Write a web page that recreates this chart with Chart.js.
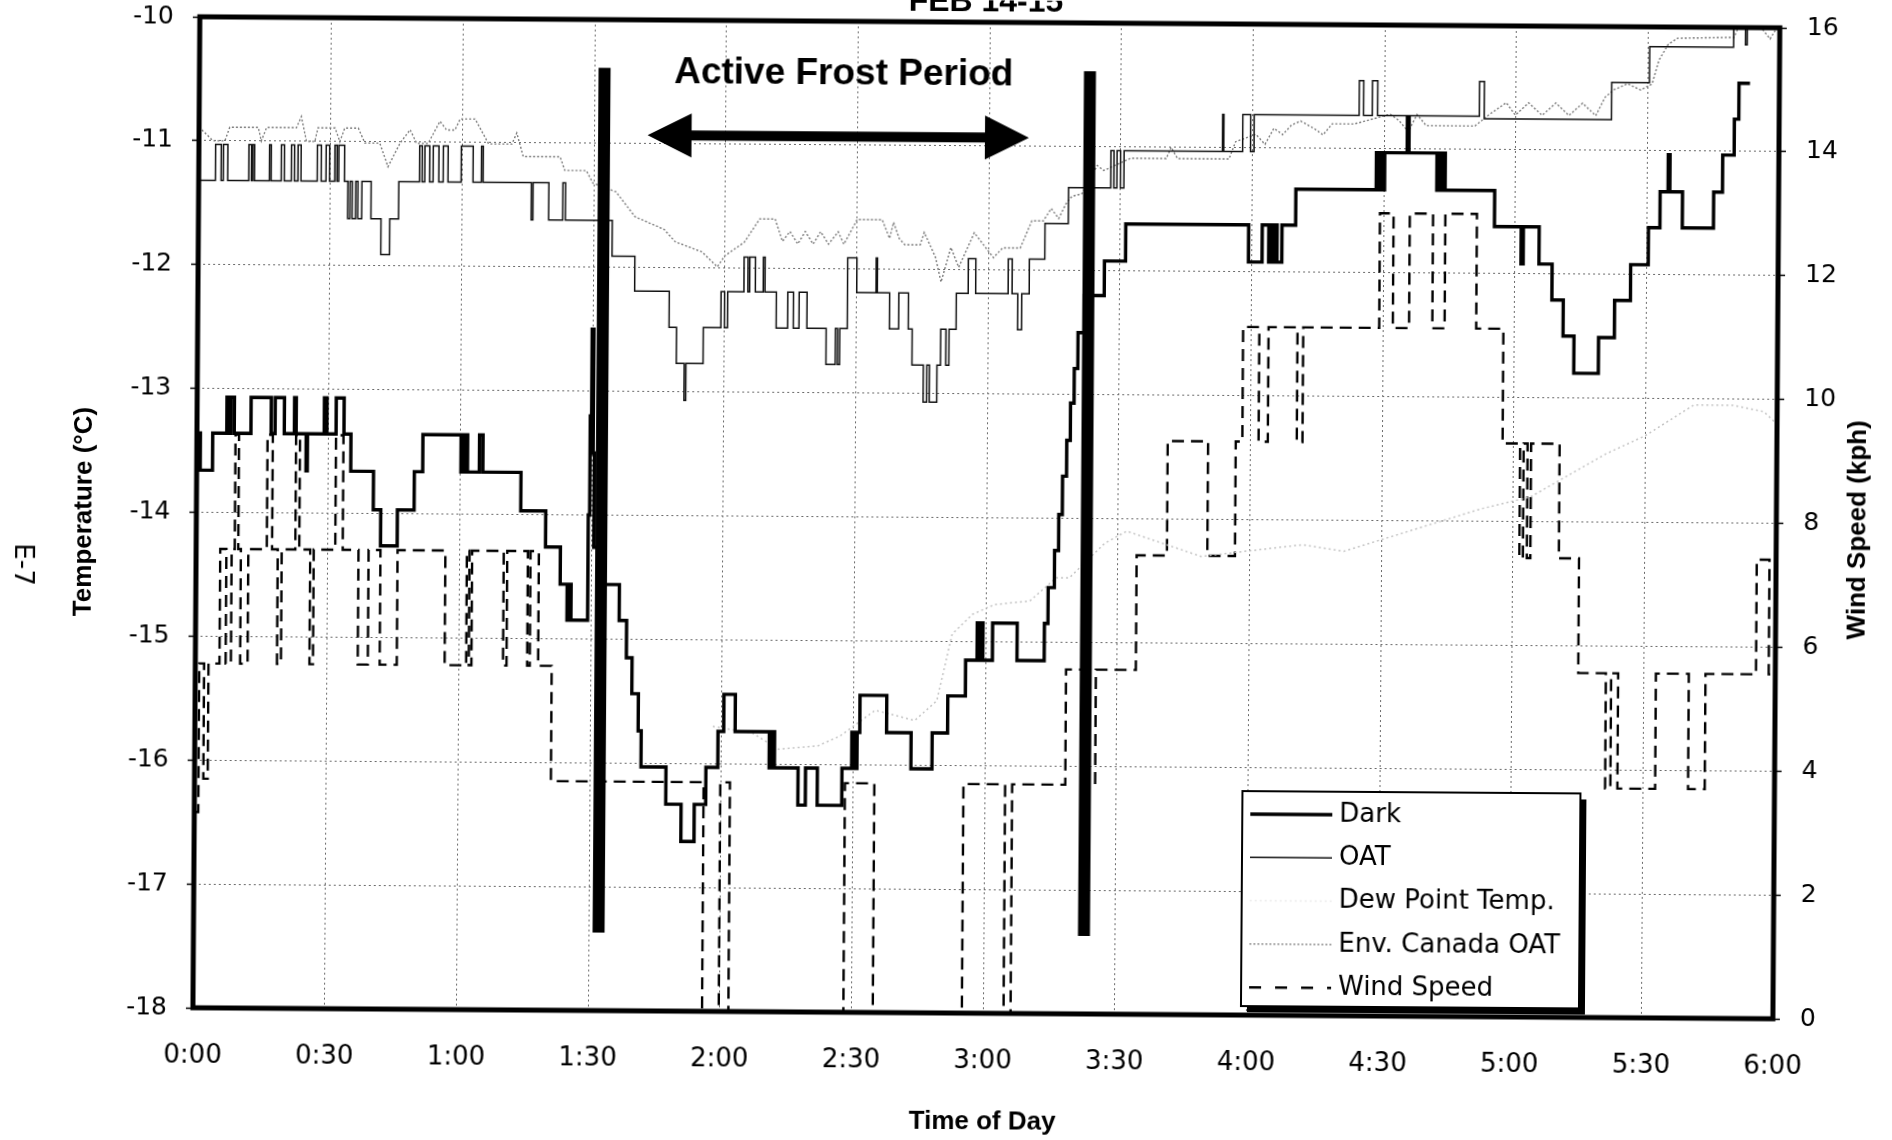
<!DOCTYPE html>
<html lang="en">
<head>
<meta charset="UTF-8">
<title>FEB 14-15 - Active Frost Period</title>
<style>
  body { margin: 0; background: #fff; overflow: hidden; }
  /* the scanned original sits a little skewed on the page */
  #wrap { width: 1892px; height: 1140px; transform: rotate(0.4deg); transform-origin: 946px 570px; }
</style>
</head>
<body>
<div id="wrap"><canvas id="frostChart" width="1892" height="1140"></canvas></div>

<script src="https://cdn.jsdelivr.net/npm/chart.js"></script>
<script>
// x values are minutes after midnight, temperatures in degC, wind in kph
const timeLabels = ['0:00', '0:30', '1:00', '1:30', '2:00', '2:30', '3:00', '3:30', '4:00', '4:30', '5:00', '5:30', '6:00'];

// [minute, degC] - value holds from that minute on
const darkTemp = [
  [0, -13.66], [0.4, -13.36], [0.8, -13.66], [3.6, -13.36], [6.8, -13.07], [7.3, -13.36], [7.7, -13.07], [8.5, -13.36],
  [12.3, -13.07], [16.9, -13.36], [17.8, -13.07], [19.9, -13.36], [22.2, -13.07], [22.6, -13.36], [24.9, -13.66], [25.2, -13.36],
  [29.0, -13.07], [29.6, -13.36], [31.7, -13.07], [33.5, -13.36], [35.1, -13.66], [40.3, -13.97], [42.0, -14.26], [45.8, -13.97],
  [49.6, -13.66], [51.5, -13.36], [60.2, -13.66], [60.6, -13.36], [61.0, -13.66], [61.4, -13.36], [61.7, -13.66], [64.4, -13.36],
  [65.2, -13.66], [73.9, -13.97], [79.6, -14.26], [83.0, -14.56], [84.6, -14.85], [85.0, -14.56], [85.5, -14.85], [89.3, -14.0],
  [89.6, -13.2], [89.9, -12.5], [90.3, -13.5], [90.6, -14.26], [93.0, -14.56], [96.5, -14.85], [98.2, -15.15], [99.5, -15.44],
  [101.0, -15.74], [101.7, -16.03], [107.4, -16.33], [110.9, -16.63], [113.9, -16.33], [116.5, -16.03], [119.2, -15.74], [120.5, -15.44],
  [123.1, -15.74], [130.9, -16.03], [131.5, -15.74], [132.1, -16.03], [137.5, -16.33], [139.2, -16.03], [141.9, -16.33], [147.5, -16.03],
  [149.7, -15.74], [150.3, -16.03], [150.9, -15.74], [151.5, -15.44], [157.6, -15.74], [163.2, -16.03], [168.0, -15.74], [171.5, -15.44],
  [175.5, -15.15], [178.1, -14.85], [178.6, -15.15], [179.0, -14.85], [179.4, -15.15], [181.6, -14.85], [187.2, -15.15], [193.4, -14.85],
  [194.2, -14.56], [195.6, -14.26], [196.5, -13.97], [197.3, -13.66], [198.2, -13.37], [199.0, -13.07], [199.8, -12.79], [200.6, -12.5],
  [202.0, -12.2], [206.5, -11.92], [211.3, -11.62], [239.3, -11.92], [242.4, -11.62], [243.9, -11.92], [244.3, -11.62], [244.8, -11.92],
  [245.3, -11.62], [245.8, -11.92], [246.9, -11.62], [250.0, -11.33], [268.3, -11.03], [268.7, -11.33], [269.2, -11.03], [269.7, -11.33],
  [270.2, -11.03], [275.3, -10.74], [275.7, -11.03], [282.1, -11.33], [282.5, -11.03], [283.0, -11.33], [283.5, -11.03], [284.0, -11.33],
  [295.3, -11.62], [301.4, -11.92], [301.9, -11.62], [305.5, -11.92], [308.5, -12.21], [311.1, -12.5], [313.6, -12.8], [319.2, -12.51],
  [322.8, -12.21], [326.4, -11.92], [330.4, -11.62], [333.0, -11.33], [334.8, -11.03], [335.2, -11.33], [338.1, -11.62], [345.2, -11.33],
  [347.2, -11.03], [349.8, -10.74], [350.8, -10.45], [353.3, -10.45]
];

const oatTemp = [
  [0, -11.32], [3.8, -11.03], [5.1, -11.32], [5.6, -11.03], [6.6, -11.32], [11.4, -11.03], [12.0, -11.32], [12.3, -11.03],
  [12.7, -11.32], [16.1, -11.03], [16.5, -11.32], [18.8, -11.03], [19.5, -11.32], [21.1, -11.03], [21.8, -11.32], [22.6, -11.03],
  [23.3, -11.32], [27.0, -11.03], [27.9, -11.32], [29.0, -11.03], [29.8, -11.32], [31.0, -11.03], [31.5, -11.32], [31.9, -11.03],
  [33.2, -11.32], [34.0, -11.62], [34.5, -11.32], [35.0, -11.62], [35.8, -11.32], [36.3, -11.62], [37.2, -11.32], [39.3, -11.62],
  [41.6, -11.91], [43.6, -11.62], [45.6, -11.32], [50.3, -11.03], [50.9, -11.32], [51.5, -11.03], [52.6, -11.32], [53.4, -11.03],
  [54.7, -11.32], [55.7, -11.03], [56.8, -11.32], [59.8, -11.03], [62.5, -11.32], [64.4, -11.03], [64.8, -11.32], [75.8, -11.62],
  [76.2, -11.32], [79.8, -11.62], [83.0, -11.32], [83.6, -11.62], [94.3, -11.91], [99.5, -12.19], [107.4, -12.48], [109.1, -12.77],
  [110.9, -13.07], [111.3, -12.77], [115.2, -12.48], [119.2, -12.19], [120.0, -12.48], [120.7, -12.19], [124.4, -11.91], [125.3, -12.19],
  [125.7, -11.91], [127.0, -12.19], [128.8, -11.91], [129.2, -12.19], [131.8, -12.48], [134.4, -12.19], [135.7, -12.48], [137.0, -12.19],
  [138.8, -12.48], [143.2, -12.77], [145.3, -12.48], [145.8, -12.77], [146.3, -12.48], [148.0, -11.91], [150.1, -12.19], [154.5, -11.91],
  [154.8, -12.19], [157.6, -12.48], [159.7, -12.19], [161.9, -12.48], [162.8, -12.77], [165.4, -13.07], [166.2, -12.77], [166.8, -13.07],
  [168.5, -12.77], [169.3, -12.48], [170.5, -12.77], [171.2, -12.48], [172.8, -12.19], [175.5, -11.91], [177.2, -12.19], [184.6, -11.91],
  [185.5, -12.19], [186.8, -12.48], [187.7, -12.19], [189.4, -11.91], [192.9, -11.62], [198.2, -11.33], [207.8, -11.03], [208.5, -11.33],
  [209.2, -11.03], [210.0, -11.33], [210.8, -11.03], [233.2, -10.73], [233.5, -11.03], [237.8, -10.73], [239.6, -11.03], [240.4, -10.73],
  [264.3, -10.45], [265.3, -10.73], [267.3, -10.45], [268.5, -10.73], [291.7, -10.45], [292.8, -10.75], [321.8, -10.45], [330.4, -10.16],
  [349.5, -10.0], [352.2, -10.14], [352.6, -10.0], [360, -10.0]
];

// [minute, degC] - plotted point to point
const dewPointTemp = [
  [118, -15.7], [127, -15.75], [133, -15.88], [142, -15.85], [147, -15.77], [155, -15.56], [164, -15.64], [169, -15.48],
  [172.4, -14.94], [177, -14.78], [182, -14.7], [190, -14.67], [196, -14.48], [199, -14.48], [207, -14.2], [212, -14.1],
  [229, -14.3], [252, -14.2], [261.5, -14.25], [292.7, -13.9], [304, -13.8], [321, -13.45], [330, -13.3], [341, -13.05],
  [350, -13.05], [357, -13.1], [360, -13.2]
];

const envCanadaTemp = [
  [0, -10.89], [3.2, -11.0], [5.9, -11.0], [7.0, -10.89], [13.5, -10.89], [14.2, -11.0], [15.4, -10.89], [22.2, -10.89],
  [23.3, -10.8], [24.5, -11.0], [26.4, -11.0], [27.1, -10.89], [31.0, -10.89], [32.1, -11.0], [33.2, -10.89], [36.3, -10.89],
  [37.8, -11.01], [41.2, -11.01], [43.1, -11.2], [45.8, -11.01], [48.1, -10.9], [49.6, -11.01], [52.2, -11.01], [54.9, -10.83],
  [56.4, -10.9], [58.3, -10.9], [59.5, -10.81], [62.9, -10.81], [66.0, -11.01], [71.3, -11.01], [72.4, -10.92], [73.9, -11.11],
  [82.3, -11.11], [83.4, -11.22], [88.3, -11.22], [89.8, -11.32], [95.1, -11.39], [99.5, -11.59], [106.1, -11.69], [108.7, -11.79],
  [114.8, -11.87], [118.3, -11.99], [120.0, -11.9], [124.4, -11.79], [127.9, -11.6], [131.4, -11.6], [133.1, -11.78], [134.8, -11.7],
  [136.6, -11.8], [138.3, -11.7], [140.1, -11.8], [141.8, -11.7], [143.6, -11.8], [145.8, -11.7], [147.1, -11.8], [150.1, -11.6],
  [155.8, -11.6], [157.5, -11.75], [158.4, -11.62], [159.7, -11.75], [161.0, -11.8], [164.5, -11.8], [165.4, -11.7], [168.0, -11.9],
  [169.3, -12.1], [171.5, -11.82], [173.3, -11.98], [176.8, -11.7], [181.2, -11.9], [183.3, -11.82], [187.3, -11.82], [189.9, -11.6],
  [192.5, -11.6], [194.3, -11.5], [196.0, -11.58], [197.8, -11.45], [199.0, -11.4], [201.2, -11.38], [204.7, -11.15], [206.2, -11.19],
  [212.3, -11.09], [220.4, -11.09], [221.5, -11.0], [223.0, -11.09], [234.7, -11.09], [236.2, -10.95], [240.8, -10.89], [242.9, -10.97],
  [244.9, -10.84], [246.9, -10.89], [249.0, -10.81], [251.0, -10.78], [254.1, -10.84], [256.1, -10.89], [258.2, -10.8], [263.2, -10.8],
  [271.4, -10.72], [273.4, -10.77], [275.5, -10.86], [277.5, -10.72], [279.6, -10.81], [290.7, -10.81], [293.8, -10.72], [297.8, -10.62],
  [299.9, -10.72], [302.9, -10.62], [306.0, -10.72], [309.1, -10.62], [312.1, -10.72], [315.2, -10.62], [318.2, -10.72], [320.3, -10.57],
  [322.3, -10.51], [325.4, -10.46], [328.4, -10.51], [331.0, -10.46], [332.5, -10.27], [334.6, -10.14], [336.7, -10.09], [349.6, -10.08],
  [350.4, -10.01], [356.0, -10.01], [357.8, -10.09], [359.3, -10.0], [360, -10.0]
];

// [minute, kph] - value holds from that minute on
const windSpeed = [
  [0, 3.16], [0.9, 5.56], [2.0, 3.70], [3.0, 5.56], [5.5, 7.41], [6.9, 5.56], [8.1, 7.41], [8.8, 9.26],
  [9.6, 7.41], [10.2, 5.56], [11.9, 7.41], [16.1, 9.26], [17.3, 7.41], [18.6, 5.56], [19.5, 7.41], [22.6, 9.26],
  [23.5, 7.41], [26.0, 5.56], [26.8, 7.41], [31.7, 9.26], [33.4, 7.41], [37.0, 5.56], [39.3, 7.41], [42.0, 5.56],
  [45.9, 7.41], [56.8, 5.56], [61.7, 7.41], [62.3, 5.56], [62.9, 7.41], [70.1, 5.56], [70.9, 7.41], [75.6, 5.56],
  [76.2, 7.41], [78.1, 5.56], [81.2, 3.70], [116.0, 0], [119.8, 3.70], [122.0, 0], [148.2, 3.70], [154.9, 0],
  [175.2, 3.70], [184.7, 0], [186.3, 3.70], [198.4, 5.56], [203.8, 3.70], [205.2, 5.56], [214.3, 7.41], [221.2, 9.26],
  [230.4, 7.41], [236.7, 9.26], [238.2, 11.11], [241.9, 9.26], [244.0, 11.11], [250.6, 9.26], [251.9, 11.11], [269.2, 12.96],
  [272.3, 11.11], [276.0, 12.96], [281.3, 11.11], [284.1, 12.96], [291.3, 11.11], [297.5, 9.26], [301.5, 7.41], [302.3, 9.26],
  [303.2, 7.41], [304.0, 9.26], [310.5, 7.41], [315.1, 5.56], [321.4, 3.70], [322.6, 5.56], [324.2, 3.70], [332.8, 5.56],
  [340.3, 3.70], [344.1, 5.56], [355.6, 7.41], [358.5, 5.56], [360, 5.56]
];

// the two heavy bars that bracket the frost period: [minute, top degC, bottom degC]
const frostBars = [[92.3, -10.39, -17.37], [202.9, -10.39, -17.37]];
const frostLabel = 'Active Frost Period';
const frostLabelAt = [146.8, -10.51];
const frostArrow = [102.2, 189.1, -10.93];   // from minute, to minute, at degC

const toXY = pairs => pairs.map(p => ({x: p[0], y: p[1]}));

// keep the plot box where the original has it: no extra room above for tick labels
const fixSide = w => s => { s.width = w; s.paddingTop = 0; s.paddingBottom = 0; };

const frameAndNotes = {
    id: 'frameAndNotes',
    afterDatasetsDraw(chart) {
        const {ctx, chartArea: a, scales: {x, y}} = chart;
        ctx.save();
        ctx.fillStyle = '#000';
        ctx.strokeStyle = '#000';

        // heavy plot frame
        ctx.lineWidth = 5;
        ctx.strokeRect(a.left, a.top, a.right - a.left, a.bottom - a.top);

        // cut-off heading at the very top
        ctx.font = 'bold 32px "Liberation Sans", Arial, sans-serif';
        ctx.textAlign = 'center';
        ctx.textBaseline = 'alphabetic';
        ctx.fillText('FEB 14-15', 982, 11);

        // frost period label and double arrow
        ctx.font = 'bold 37px "Liberation Sans", Arial, sans-serif';
        ctx.fillText(frostLabel, x.getPixelForValue(frostLabelAt[0]), y.getPixelForValue(frostLabelAt[1]));
        const x0 = x.getPixelForValue(frostArrow[0]);
        const x1 = x.getPixelForValue(frostArrow[1]);
        const ay = y.getPixelForValue(frostArrow[2]);
        const head = 44, half = 22, shaft = 5;
        ctx.beginPath();
        ctx.moveTo(x0, ay);
        ctx.lineTo(x0 + head, ay - half);
        ctx.lineTo(x0 + head, ay - shaft);
        ctx.lineTo(x1 - head, ay - shaft);
        ctx.lineTo(x1 - head, ay - half);
        ctx.lineTo(x1, ay);
        ctx.lineTo(x1 - head, ay + half);
        ctx.lineTo(x1 - head, ay + shaft);
        ctx.lineTo(x0 + head, ay + shaft);
        ctx.lineTo(x0 + head, ay + half);
        ctx.closePath();
        ctx.fill();

        // right axis title reads bottom to top like the left one
        ctx.save();
        ctx.translate(1858, (a.top + a.bottom) / 2 + 6);
        ctx.rotate(-Math.PI / 2);
        ctx.font = 'bold 26px "Liberation Sans", Arial, sans-serif';
        ctx.textBaseline = 'middle';
        ctx.fillText('Wind Speed (kph)', 0, 0);
        ctx.restore();

        // page mark on the far left
        ctx.save();
        ctx.translate(22, 571);
        ctx.rotate(Math.PI / 2);
        ctx.font = '26px "DejaVu Sans", sans-serif';
        ctx.textBaseline = 'middle';
        ctx.fillText('E-7', 0, 0);
        ctx.restore();

        // legend box with a drop shadow
        const lx = a.left + 1048, ly = a.top + 767, lw = 338, lh = 215;
        ctx.fillRect(lx + 6, ly + 6, lw, lh);
        ctx.fillStyle = '#fff';
        ctx.fillRect(lx, ly, lw, lh);
        ctx.lineWidth = 2;
        ctx.strokeRect(lx, ly, lw, lh);
        ctx.font = '26px "DejaVu Sans", sans-serif';
        ctx.textAlign = 'left';
        ctx.textBaseline = 'middle';
        const items = chart.data.datasets.filter(d => d.label);
        items.forEach((d, i) => {
            const rowY = ly + 23 + i * 43.3;
            ctx.save();
            ctx.strokeStyle = d.legendColor || d.borderColor;
            ctx.lineWidth = d.borderWidth;
            ctx.setLineDash(d.legendDash || d.borderDash || []);
            ctx.beginPath();
            ctx.moveTo(lx + 8, rowY);
            ctx.lineTo(lx + 90, rowY);
            ctx.stroke();
            ctx.restore();
            ctx.fillStyle = '#000';
            ctx.fillText(d.label, lx + 97, rowY);
        });
        ctx.restore();
    }
};

const barSets = frostBars.map(b => ({
    data: [{x: b[0], y: b[1]}, {x: b[0], y: b[2]}],
    yAxisID: 'y',
    borderColor: '#000',
    borderWidth: 12,
    borderCapStyle: 'butt',
    pointRadius: 0
}));

new Chart(document.getElementById('frostChart'), {
    type: 'line',
    data: {
        datasets: [
            ...barSets,
            {
                label: 'Dark',
                data: toXY(darkTemp),
                yAxisID: 'y',
                borderColor: '#000',
                borderWidth: 3.4,
                stepped: true,
                pointRadius: 0
            },
            {
                label: 'OAT',
                data: toXY(oatTemp),
                yAxisID: 'y',
                borderColor: '#111',
                borderWidth: 1.5,
                stepped: true,
                pointRadius: 0
            },
            {
                label: 'Dew Point Temp.',
                data: toXY(dewPointTemp),
                yAxisID: 'y',
                borderColor: '#c4c4c4',
                borderWidth: 1.5,
                borderDash: [2, 3],
                legendColor: '#ececec',
                pointRadius: 0
            },
            {
                label: 'Env. Canada OAT',
                data: toXY(envCanadaTemp),
                yAxisID: 'y',
                borderColor: '#7a7a7a',
                borderWidth: 1.4,
                borderDash: [2, 2],
                pointRadius: 0
            },
            {
                label: 'Wind Speed',
                data: toXY(windSpeed),
                yAxisID: 'y1',
                borderColor: '#000',
                borderWidth: 2.4,
                borderDash: [12, 7],
                legendDash: [12, 14],
                stepped: true,
                pointRadius: 0
            }
        ]
    },
    options: {
        responsive: false,
        animation: false,
        layout: { padding: { top: 22, left: 0, right: 0, bottom: 0 } },
        font: { family: '"DejaVu Sans", sans-serif' },
        plugins: {
            legend: { display: false },
            tooltip: { enabled: false }
        },
        scales: {
            x: {
                type: 'linear',
                min: 0,
                max: 360,
                afterFit: s => { s.height = 127; },
                ticks: {
                    stepSize: 30,
                    padding: 33,
                    color: '#000',
                    font: { size: 26, family: '"DejaVu Sans", sans-serif' },
                    callback: v => timeLabels[v / 30]
                },
                grid: { color: '#6a6a6a', lineWidth: 1, drawTicks: false },
                border: { display: false, dash: [2, 3] },
                title: {
                    display: true,
                    text: 'Time of Day',
                    color: '#000',
                    padding: { top: 0, bottom: 3 },
                    font: { size: 26, weight: 'bold', family: '"Liberation Sans", Arial, sans-serif' }
                }
            },
            y: {
                position: 'left',
                min: -18,
                max: -10,
                afterFit: fixSide(196),
                ticks: {
                    stepSize: 1,
                    padding: 19,
                    color: '#000',
                    font: { size: 25, family: '"DejaVu Sans", sans-serif' }
                },
                grid: { color: '#6a6a6a', lineWidth: 1, tickLength: 7, tickColor: '#000', tickWidth: 1.5 },
                border: { display: false, dash: [2, 3] },
                title: {
                    display: true,
                    text: 'Temperature (°C)',
                    color: '#000',
                    padding: { top: 68, bottom: 0 },
                    font: { size: 26, weight: 'bold', family: '"Liberation Sans", Arial, sans-serif' }
                }
            },
            y1: {
                position: 'right',
                min: 0,
                max: 16,
                afterFit: fixSide(116),
                ticks: {
                    stepSize: 2,
                    padding: 20,
                    color: '#000',
                    font: { size: 25, family: '"DejaVu Sans", sans-serif' }
                },
                grid: { drawOnChartArea: false, tickLength: 7, tickColor: '#000', tickWidth: 1.5 },
                border: { display: false }
            }
        }
    },
    plugins: [frameAndNotes]
});
</script>
</body>
</html>
